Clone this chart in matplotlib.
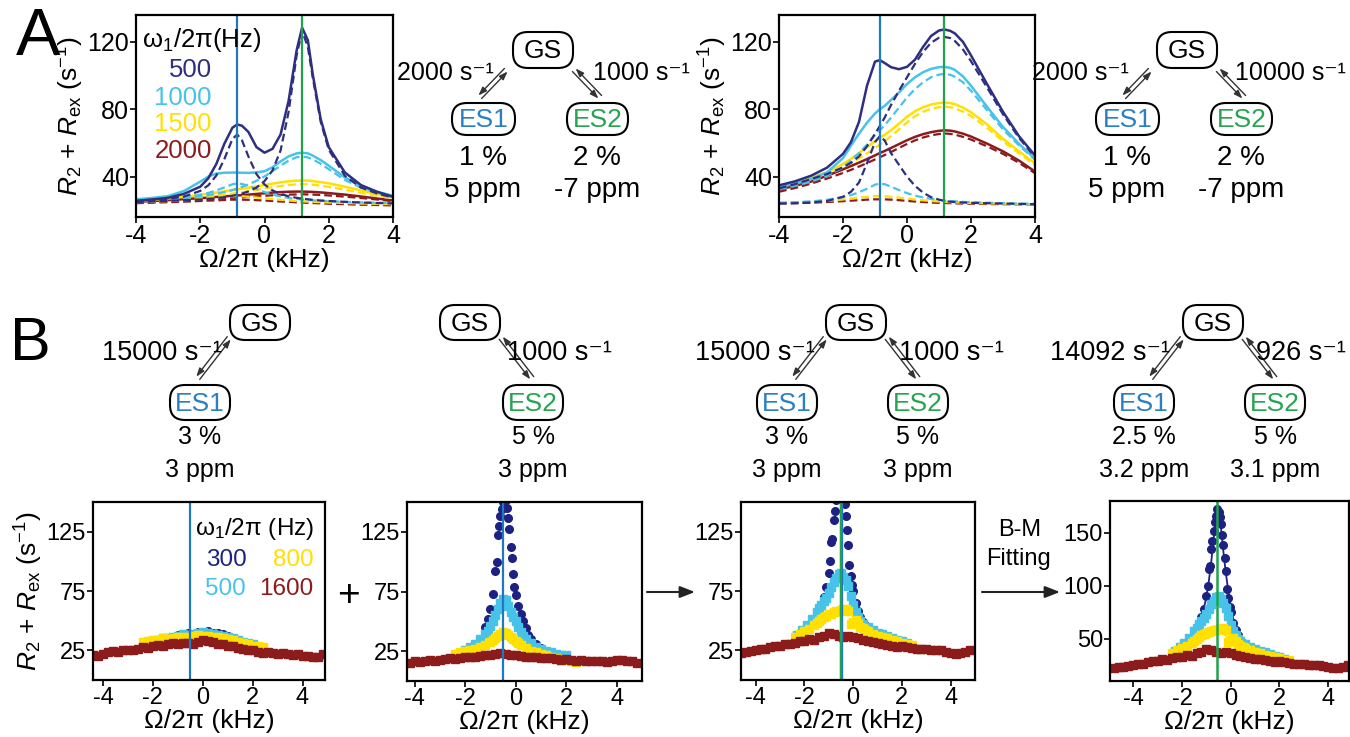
import matplotlib
matplotlib.use('Agg')
import matplotlib.pyplot as plt
from matplotlib.patches import FancyBboxPatch

plt.rcParams['font.family'] = ['Liberation Sans', 'DejaVu Sans']
plt.rcParams['mathtext.fontset'] = 'custom'
plt.rcParams['mathtext.rm'] = 'Liberation Sans'
plt.rcParams['mathtext.it'] = 'Liberation Sans:italic'
plt.rcParams['mathtext.bf'] = 'Liberation Sans:bold'
plt.rcParams['axes.unicode_minus'] = False

# ---------------- colours ----------------
NAVY = '#2e2f80'
NAVY_B = '#1c2182'
CYAN = '#47c3ea'
YELLOW = '#ffe000'
RED = '#8c1c1c'
LINE_BLUE = '#1f78c1'
LINE_GREEN = '#20a34b'
ES1_COL = '#2a80c2'
ES2_COL = '#26a452'

# ---------------- panel A: simulated profiles ----------------
xa = [-4, -3.5, -3, -2.5, -2, -1.75, -1.5, -1.25, -1, -0.85, -0.7, -0.5, -0.25, 0,
      0.25, 0.5, 0.75, 1, 1.17, 1.35, 1.5, 1.75, 2, 2.5, 3, 3.5, 4]
a_fields = ['500', '1000', '1500', '2000']
a_es1_offset = -0.85
a_es2_offset = 1.17

# GS <-> ES1 2000 s-1, GS <-> ES2 1000 s-1
a1_navy = [25.6, 26.4, 27.4, 29.8, 34, 39, 47.5, 59.5, 69, 71, 70.2, 66.5, 57.5, 54.2,
           56.5, 65, 85, 115, 128.5, 121, 101, 74, 57.5, 42.5, 35, 31, 28]
a1_navy_es1 = [25.4, 26.0, 26.8, 28.2, 31.5, 34.8, 40.6, 50.4, 62.3, 65, 61.5, 51.9, 41.5, 35.3,
               31.8, 29.7, 28.3, 27.4, 26.9, 26.5, 26.2, 25.8, 25.5, 25.0, 24.6, 24.3, 24.1]
a1_navy_es2 = [24.8, 25.2, 25.6, 26.0, 26.4, 26.8, 27.2, 27.8, 28.6, 29.2, 29.9, 31.2, 33.5, 37.3,
               43.7, 55.5, 78.4, 112, 126.5, 117, 99, 72.5, 56, 40.5, 33.5, 30, 27.5]
a1_cyan = [26.5, 27.3, 28.4, 31.5, 37, 40, 41.8, 42.3, 42.4, 42.4, 42.3, 42.2, 42.5, 43.2,
           45.5, 49, 52, 53.8, 54.2, 53.8, 52.5, 49.8, 46.5, 39.5, 34.5, 31, 28.6]
a1_cyan_es1 = [25.5, 25.9, 26.6, 27.6, 29.2, 30.3, 31.8, 33.6, 35.4, 36, 35.6, 34.6, 32.6, 30.8,
               29.3, 28.2, 27.3, 26.7, 26.4, 26.1, 25.9, 25.6, 25.4, 25.0, 24.7, 24.5, 24.3]
a1_cyan_es2 = [25.4, 25.8, 26.4, 27.2, 28.3, 29, 29.8, 30.8, 32, 33, 33.9, 35.3, 37.5, 40.1,
               43.2, 46.5, 49.5, 51.5, 51.9, 51.4, 50.3, 47.6, 44.4, 38, 33.5, 30.5, 28]
a1_yel = [25.5, 26.2, 27, 28, 29.2, 29.8, 30.5, 31.2, 32, 32.4, 32.8, 33.4, 34.2, 35,
          35.8, 36.6, 37.2, 37.6, 37.7, 37.6, 37.3, 36.7, 36, 34, 31.8, 29.5, 27.5]
a1_yel_es1 = [24.8, 25.1, 25.5, 26, 26.7, 27.1, 27.5, 27.9, 28.3, 28.4, 28.3, 28, 27.6, 27.1,
              26.6, 26.2, 25.8, 25.5, 25.3, 25.1, 25, 24.8, 24.6, 24.3, 24, 23.8, 23.6]
a1_yel_es2 = [25, 25.5, 26.2, 26.9, 27.7, 28.2, 28.7, 29.3, 29.9, 30.3, 30.7, 31.3, 32.1, 32.9,
              33.7, 34.4, 35, 35.4, 35.5, 35.4, 35.2, 34.6, 33.9, 32.2, 30.4, 28.6, 27]
a1_red = [25, 25.5, 26, 26.6, 27.2, 27.5, 27.9, 28.2, 28.6, 28.8, 29, 29.3, 29.7, 30.1,
          30.5, 30.8, 31, 31.1, 31.1, 31, 30.9, 30.6, 30.2, 29.3, 28.2, 27, 25.8]
a1_red_es1 = [24.2, 24.5, 24.8, 25.1, 25.5, 25.7, 25.9, 26.1, 26.3, 26.3, 26.3, 26.2, 26, 25.8,
              25.5, 25.2, 25, 24.7, 24.6, 24.4, 24.3, 24.1, 23.9, 23.6, 23.3, 23.1, 22.9]
a1_red_es2 = [24.5, 24.9, 25.3, 25.8, 26.3, 26.5, 26.8, 27.1, 27.4, 27.5, 27.7, 28, 28.3, 28.6,
              28.9, 29.1, 29.3, 29.4, 29.5, 29.4, 29.3, 29.1, 28.8, 28.1, 27.3, 26.4, 25.4]

# GS <-> ES1 2000 s-1, GS <-> ES2 10000 s-1
a2_navy = [34.8, 37.2, 40.5, 45.3, 53.5, 60.5, 72.5, 94, 108.3, 109.2, 107.5, 105, 103.8, 105.2,
           109.5, 117, 123.5, 126.8, 127.4, 126.6, 125, 120, 112, 95, 78.5, 64, 52.5]
a2_navy_es1 = [24, 24.2, 24.6, 25.5, 28, 31, 36.5, 48, 60.5, 64, 61.5, 54, 47, 40,
               34.5, 30.5, 27.8, 26.3, 25.6, 25.1, 24.9, 24.6, 24.4, 24.2, 24, 23.8, 23.6]
a2_navy_es2 = [33, 35.5, 38.5, 41.5, 45.5, 48.2, 52, 58, 65.5, 70, 75, 82.5, 91, 99,
               107, 114, 119.5, 122.5, 123, 122.3, 120.5, 115.5, 108.5, 93, 77, 63, 51.5]
a2_cyan = [33.8, 35.8, 38.5, 42.5, 51, 58.5, 65.5, 72, 77.5, 80, 82, 85.5, 90, 95,
           99, 102, 104, 105, 105.2, 104.6, 103.3, 99.5, 94, 81.5, 69.5, 59.5, 50.5]
a2_cyan_es1 = [24.5, 24.8, 25.3, 26.2, 27.8, 29, 30.7, 32.8, 35.2, 35.8, 35.5, 34, 32, 30.2,
               28.7, 27.6, 26.8, 26.2, 25.8, 25.5, 25.3, 25, 24.8, 24.5, 24.2, 24, 23.8]
a2_cyan_es2 = [32.5, 34.5, 37, 40.5, 45.5, 49.5, 54, 59, 64.5, 67.5, 70.5, 75, 81, 87,
               92, 96, 99, 100.6, 101, 100.5, 99.3, 96, 91, 79.5, 68, 58.5, 50]
a2_yel = [33.8, 36.3, 39.5, 42.5, 47.5, 50.5, 54, 57.5, 61, 63, 64.8, 67.5, 71.5, 75.5,
          78.8, 81.2, 82.8, 83.7, 84, 83.7, 83, 81, 78.2, 71, 62.5, 55, 47.8]
a2_yel_es1 = [24.2, 24.5, 25, 25.6, 26.4, 27, 27.5, 28, 28.4, 28.5, 28.4, 28, 27.5, 26.9,
              26.4, 25.9, 25.5, 25.2, 25, 24.8, 24.7, 24.5, 24.3, 24.1, 23.9, 23.7, 23.5]
a2_yel_es2 = [32.8, 35, 37.8, 41.2, 45.5, 48, 50.8, 53.8, 57, 59, 61, 64, 68, 72.2,
              75.8, 78.5, 80.3, 81.2, 81.5, 81.2, 80.5, 78.6, 76, 69, 61, 53.8, 47]
a2_red = [32.4, 34.5, 37, 40.5, 44.3, 46.3, 48.3, 50.4, 52.6, 54, 55.2, 57, 59.3, 61.6,
          63.6, 65.2, 66.4, 67.2, 67.5, 67.3, 66.8, 65.5, 63.8, 59.6, 55, 49.5, 43]
a2_red_es1 = [24, 24.2, 24.5, 24.9, 25.4, 25.7, 26, 26.3, 26.5, 26.5, 26.5, 26.3, 26, 25.6,
              25.2, 24.9, 24.6, 24.4, 24.3, 24.2, 24.1, 24, 23.9, 23.7, 23.6, 23.5, 23.4]
a2_red_es2 = [31, 33.2, 35.8, 38.8, 42.2, 44, 46, 48, 50.2, 51.5, 52.8, 54.6, 57, 59.4,
              61.5, 63.2, 64.5, 65.3, 65.6, 65.4, 64.9, 63.6, 62, 58, 53.5, 48.2, 42]

# ---------------- panel B: profiles vs offset ----------------
b_fields = ['300', '500', '800', '1600']
b_line_offset = -0.5
b4_line_offset = -0.55

red_x = [-4.4, -4.2, -4.0, -3.8, -3.6, -3.4, -3.2, -3.0, -2.8, -2.6, -2.4, -2.2, -2.0, -1.8,
         -1.6, -1.4, -1.2, -1.0, -0.8, -0.6, -0.4, -0.2, 0.0, 0.2, 0.4, 0.6, 0.8, 1.0, 1.2,
         1.4, 1.6, 1.8, 2.0, 2.2, 2.4, 2.6, 2.8, 3.0, 3.2, 3.4, 3.6, 3.8, 4.0, 4.2, 4.4, 4.6, 4.8]

# ES1 only
b1_red = [21, 20.5, 22, 23.5, 24.5, 24, 25, 25.5, 25, 26.5, 27.5, 27, 28.5, 29.5,
          29, 30, 31, 30.5, 31.5, 31, 30.5, 32, 33.5, 33, 32, 30.5, 30, 29, 28.5,
          27, 26.5, 25, 25.5, 24, 23, 23.5, 22.5, 22, 22.5, 21.5, 21, 21.5, 20.5, 20, 19.5, 19, 22]
b1_yel_x = [-2.4, -2.2, -2.0, -1.8, -1.6, -1.4, -1.2, -1.0, -0.8, -0.6, -0.4, -0.2, 0.0,
            0.2, 0.4, 0.6, 0.8, 1.0, 1.2, 1.4, 1.6, 1.8, 2.0, 2.2, 2.4]
b1_yel = [32, 33, 33.5, 34, 35, 34.5, 35.5, 36, 36.5, 36, 37, 38, 37.5,
          37, 36.5, 36, 35, 34.5, 33.5, 32, 31, 30, 29, 28.5, 27.5]
b1_cyan_x = [-2.0, -1.8, -1.6, -1.4, -1.2, -1.0, -0.8, -0.6, -0.4, -0.2, 0.0,
             0.2, 0.4, 0.6, 0.8, 1.0, 1.2, 1.4, 1.6, 1.8, 2.0]
b1_cyan = [33, 34, 35, 35.5, 36.5, 37.5, 38.5, 38, 39, 40, 40.5,
           40, 39, 38, 37, 36, 35, 33.5, 32, 31, 30]
b1_navy_x = [-1.0, -0.8, -0.6, -0.4, -0.2, 0.0, 0.2, 0.4, 0.6, 0.8, 1.0]
b1_navy = [38, 38.5, 39.5, 39, 40.5, 40, 41, 40, 39.5, 38.5, 37.5]

# ES2 only
b2_red = [15, 15.5, 16.5, 16, 17, 17.5, 17, 18, 18.5, 19, 18.5, 19.5, 20, 20.5,
          20, 21, 21.5, 22, 22.5, 23.5, 23, 22, 21.5, 21, 20.5, 20, 20.5, 19.5, 19,
          19.5, 18.5, 18, 18.5, 17.5, 17, 17.5, 17, 16.5, 17, 16.5, 16, 16.5, 17.5, 18, 17, 16.5, 15]
b2_yel_x = [-2.4, -2.2, -2.0, -1.8, -1.6, -1.4, -1.2, -1.0, -0.9, -0.8, -0.7, -0.6, -0.5, -0.4,
            -0.3, -0.2, -0.1, 0.0, 0.1, 0.2, 0.4, 0.6, 0.8, 1.0, 1.2, 1.4, 1.6, 1.8, 2.0, 2.2, 2.4]
b2_yel = [23, 24.5, 25, 26, 27, 28.5, 30.5, 33, 34, 36, 37.5, 39, 41, 40,
          38.5, 37, 35, 33.5, 31.5, 30, 27.5, 25.5, 24, 22.5, 21.5, 20, 19, 18, 17.5, 16.5, 16]
b2_cyan_x = [-2.0, -1.8, -1.6, -1.4, -1.2, -1.1, -1.0, -0.9, -0.8, -0.7, -0.6, -0.5, -0.4, -0.3,
             -0.2, -0.1, 0.0, 0.1, 0.2, 0.3, 0.4, 0.6, 0.8, 1.0, 1.2, 1.4, 1.6, 1.8, 2.0]
b2_cyan = [26, 28.5, 31, 35, 39.5, 42, 46, 50, 55, 60, 65, 69, 68, 63,
           58, 54, 50, 45, 41, 38, 35.5, 31.5, 28.5, 26.5, 25, 24, 23, 22, 21.5]
b2_navy_x = [-1.2, -1.1, -1.0, -0.9, -0.8, -0.75, -0.7, -0.65, -0.6, -0.55, -0.5, -0.45, -0.4,
             -0.35, -0.3, -0.25, -0.2, -0.15, -0.1, -0.05, 0.0, 0.1, 0.2, 0.3, 0.4, 0.5, 0.6, 0.8, 1.0]
b2_navy = [45, 52, 60, 73, 92, 100, 122, 130, 138, 144, 150, 155, 152,
           145, 137, 127, 112, 103, 90, 79, 72, 63, 56, 50, 44, 38.5, 35.5, 31, 28]

# ES1 + ES2 together (also the data that is fitted)
b3_red_x = [-4.8, -4.6] + red_x
b3_red = [22.5, 23, 23.5, 24.5, 25, 26, 26.5, 28, 28.5, 29, 30.5, 30, 31.5, 32.5, 33,
          34.5, 34, 36, 37.5, 40, 39, 37.5, 36, 37, 36.5, 35, 34, 33, 32, 31, 30.5,
          29.5, 29, 28, 28.5, 27.5, 27, 26.5, 26, 26.5, 25.5, 25, 25, 24, 23, 22, 22.5, 23.5, 25]
b3_yel_x = [-2.4, -2.2, -2.0, -1.8, -1.6, -1.5, -1.4, -1.3, -1.2, -1.1, -1.0, -0.9, -0.8, -0.7,
            -0.6, -0.5, -0.4, -0.3, -0.2, -0.1, 0.0, 0.1, 0.2, 0.3, 0.4, 0.5, 0.6, 0.8, 1.0,
            1.2, 1.4, 1.6, 1.8, 2.0, 2.2, 2.4]
b3_yel = [36.5, 39, 41, 43, 46, 48, 50, 51.5, 53, 54, 55.5, 56, 57, 58,
          58.5, 59, 59.5, 60, 58, 47, 49, 50.5, 48, 45, 43.5, 42, 41, 39, 37.5,
          36.5, 35, 34, 32.5, 31.5, 30, 29.5]
b3_cyan_x = [-2.3, -2.1, -1.9, -1.7, -1.5, -1.4, -1.3, -1.2, -1.1, -1.0, -0.9, -0.8, -0.7, -0.6,
             -0.5, -0.4, -0.3, -0.2, -0.1, 0.0, 0.1, 0.2, 0.3, 0.4, 0.6, 0.8, 1.0, 1.2, 1.4,
             1.6, 1.8, 2.0, 2.2]
b3_cyan = [38, 42, 46, 51, 57.5, 60.5, 63.5, 66.5, 69.5, 73, 78, 83, 86, 89,
           90, 87, 84, 79, 71, 63, 57, 53, 50, 47.5, 44.5, 42, 40, 38.5, 37,
           35.5, 34, 32.5, 31]
b3_navy_x = [-2.0, -1.8, -1.6, -1.4, -1.3, -1.2, -1.1, -1.0, -0.95, -0.9, -0.85, -0.8, -0.75,
             -0.7, -0.65, -0.6, -0.55, -0.5, -0.45, -0.4, -0.35, -0.3, -0.25, -0.2, -0.15,
             -0.1, -0.05, 0.0, 0.1, 0.2, 0.3, 0.4, 0.5, 0.6, 0.8, 1.0, 1.2, 1.4, 1.6, 1.8, 2.0]
b3_navy = [40, 43.5, 49, 57, 63, 70, 78, 90, 100, 116, 119, 135, 142,
           152, 160, 166, 172, 170, 165, 158, 148, 138, 126, 114, 97,
           88, 80, 75, 65, 58, 53, 49, 46, 44, 40.5, 38.5, 36.5, 35, 33.5, 32, 31]

# Bloch-McConnell fit curves
fit_x = [-4.9, -4, -3, -2.5, -2, -1.75, -1.5, -1.25, -1.1, -1.0, -0.9, -0.8, -0.7, -0.6,
         -0.55, -0.5, -0.4, -0.3, -0.2, -0.1, 0, 0.1, 0.25, 0.5, 0.75, 1, 1.5, 2, 2.5, 3, 4, 4.9]
fit_navy = [22, 24, 28, 31, 38, 43, 52, 66, 79, 89, 104, 122, 145, 166,
            172, 170, 155, 132, 112, 95, 80, 69, 57, 45, 38.5, 35, 30.5, 28, 26, 24.5, 22, 21]
fit_cyan = [22, 24.5, 28.5, 32, 38.5, 43, 50, 58, 64, 69, 74.5, 80, 85, 88,
            88.5, 88, 85, 79, 72, 65, 59, 54, 48.5, 43, 39.5, 37, 33, 30, 27.5, 25.5, 22.5, 21]
fit_yel = [22, 25, 30, 33.5, 38.5, 41.5, 45, 48.5, 50.5, 52, 53.5, 55, 56, 56.8,
           57, 56.8, 56, 54.5, 52.5, 50.5, 48.5, 46.5, 44, 40.5, 37.5, 35.5, 32, 29.5, 27, 25.5, 22.5, 21]
fit_red = [22, 25, 29, 31.3, 33.5, 34.7, 35.8, 36.8, 37.3, 37.6, 37.8, 38, 38, 37.9,
           37.8, 37.7, 37.4, 37, 36.6, 36.2, 35.7, 35.2, 34.5, 33.3, 32.2, 31.2, 29.4, 27.8, 26.4, 25.2, 23.2, 21.8]

W, H = 1350, 737
fig = plt.figure(figsize=(W / 100, H / 100), dpi=100)


def px_axes(l, t, r, b):
    return fig.add_axes([l / W, 1 - b / H, (r - l) / W, (b - t) / H])


def style(ax, xlim, ylim, yticks, size):
    ax.set_xlim(*xlim)
    ax.set_ylim(*ylim)
    ax.set_xticks([-4, -2, 0, 2, 4])
    ax.set_yticks(yticks)
    ax.tick_params(direction='out', length=4, width=1.2, labelsize=size, pad=1)
    for s in ax.spines.values():
        s.set_linewidth(1.6)


ylab = r'$R_2$ + $R_{\mathrm{ex}}$ (s$^{-1}$)'
xlab = 'Ω/2π (kHz)'
dash = (0, (3.5, 1.8))
a_cols = [NAVY, CYAN, YELLOW, RED]

a_sets = [
    ((136, 15, 393, 217), [(a1_navy, a1_navy_es1, a1_navy_es2), (a1_cyan, a1_cyan_es1, a1_cyan_es2),
                           (a1_yel, a1_yel_es1, a1_yel_es2), (a1_red, a1_red_es1, a1_red_es2)]),
    ((779, 15, 1035, 217), [(a2_navy, a2_navy_es1, a2_navy_es2), (a2_cyan, a2_cyan_es1, a2_cyan_es2),
                            (a2_yel, a2_yel_es1, a2_yel_es2), (a2_red, a2_red_es1, a2_red_es2)]),
]
for rect, curves in a_sets:
    ax = px_axes(*rect)
    for (solid, es1, es2), col in reversed(list(zip(curves, a_cols))):
        ax.plot(xa, es1, color=col, lw=1.6, ls=dash)
        ax.plot(xa, es2, color=col, lw=1.6, ls=dash)
        ax.plot(xa, solid, color=col, lw=1.8)
    ax.axvline(a_es1_offset, color=LINE_BLUE, lw=1.6)
    ax.axvline(a_es2_offset, color=LINE_GREEN, lw=1.6)
    style(ax, (-4, 4), (16, 136), [40, 80, 120], 18)
    ax.set_xlabel(xlab, fontsize=19, labelpad=0)
    ax.set_ylabel(ylab, fontsize=19, labelpad=1)


def scatter_set(ax, series, fits=None):
    for i, (x, y, col, mk) in enumerate(series):
        ax.plot(x, y, ls='none', marker=mk, ms=5.5, color=col, mec=col)
        if fits is not None:
            ax.plot(fit_x, fits[i], color=col, lw=1.3)


b1 = px_axes(93, 502, 325, 680)
scatter_set(b1, [(b1_navy_x, b1_navy, NAVY_B, 'o'), (b1_cyan_x, b1_cyan, CYAN, 's'),
                 (b1_yel_x, b1_yel, YELLOW, 's'), (red_x, b1_red, RED, 's')])
b1.axvline(b_line_offset, color=LINE_BLUE, lw=1.6)
style(b1, (-4.4, 4.9), (0, 150), [25, 75, 125], 17)
b1.set_ylabel(ylab, fontsize=19, labelpad=1)

b2 = px_axes(407, 502, 642, 681)
scatter_set(b2, [(b2_navy_x, b2_navy, NAVY_B, 'o'), (b2_cyan_x, b2_cyan, CYAN, 's'),
                 (b2_yel_x, b2_yel, YELLOW, 's'), (red_x, b2_red, RED, 's')])
b2.axvline(b_line_offset, color=LINE_BLUE, lw=1.6)
style(b2, (-4.3, 5.0), (0, 150), [25, 75, 125], 17)

b3_series = [(b3_navy_x, b3_navy, NAVY_B, 'o'), (b3_cyan_x, b3_cyan, CYAN, 's'),
             (b3_yel_x, b3_yel, YELLOW, 's'), (b3_red_x, b3_red, RED, 's')]
b3 = px_axes(741, 502, 975, 680)
scatter_set(b3, b3_series)
b3.axvline(b_line_offset, color=LINE_BLUE, lw=2.4)
b3.axvline(b_line_offset, color=LINE_GREEN, lw=1.6)
style(b3, (-4.6, 5.0), (0, 150), [25, 75, 125], 17)

b4 = px_axes(1110, 501, 1349, 681)
scatter_set(b4, b3_series, fits=[fit_navy, fit_cyan, fit_yel, fit_red])
b4.axvline(b4_line_offset, color=LINE_GREEN, lw=1.8)
style(b4, (-4.95, 4.85), (10, 180), [50, 100, 150], 17)

for ax in (b1, b2, b3, b4):
    ax.set_xlabel(xlab, fontsize=19, labelpad=0)

# ---------------- overlay: schemes, legends, arrows ----------------
ov = fig.add_axes([0, 0, 1, 1], zorder=5)
ov.set_xlim(0, W)
ov.set_ylim(H, 0)
ov.axis('off')
ov.patch.set_alpha(0)


def state(x, y, w, h, label, col='black', size=18):
    ov.add_patch(FancyBboxPatch((x, y), w, h, boxstyle='round,pad=0,rounding_size=15',
                                fc='white', ec='black', lw=1.5))
    ov.text(x + w / 2, y + h / 2 + 1, label, color=col, fontsize=size, ha='center', va='center')


def eq_arrow(x0, y0, x1, y1):
    dx, dy = x1 - x0, y1 - y0
    n = (dx ** 2 + dy ** 2) ** 0.5
    ox, oy = -dy / n * 2.2, dx / n * 2.2
    props = dict(arrowstyle='-|>,head_length=0.5,head_width=0.18', lw=1.0, color='#333333',
                 shrinkA=0, shrinkB=0)
    ov.annotate('', xy=(x1 + ox, y1 + oy), xytext=(x0 + ox, y0 + oy), arrowprops=props)
    ov.annotate('', xy=(x0 - ox, y0 - oy), xytext=(x1 - ox, y1 - oy), arrowprops=props)


def txt(x, y, s, size=18, ha='center', col='black'):
    ov.text(x, y, s, fontsize=size, ha=ha, va='center', color=col)


txt(38, 38, 'A', size=48)
txt(30, 344, 'B', size=44)

# A legend
txt(142, 40, 'ω$_1$/2π(Hz)', size=18.5, ha='left')
for lab, col, yy in zip(a_fields, a_cols, [70, 98, 124, 151]):
    txt(212, yy, lab, size=18.5, ha='right', col=col)

# A schemes
for dx, k1_right, k2_text, k2_x, k2_ha in [(0, 494, '1000 s⁻¹', 593, 'left'),
                                            (644, 1129, '10000 s⁻¹', 1346, 'right')]:
    state(513 + dx, 32, 60, 36, 'GS', size=19)
    state(452 + dx, 103, 63, 32, 'ES1', ES1_COL, size=19)
    state(567 + dx, 103, 61, 32, 'ES2', ES2_COL, size=19)
    eq_arrow(506 + dx, 70, 480 + dx, 97)
    eq_arrow(574 + dx, 70, 600 + dx, 97)
    txt(k1_right, 73, '2000 s⁻¹', size=18, ha='right')
    txt(k2_x, 73, k2_text, size=18, ha=k2_ha)
    txt(483 + dx, 158, '1 %', size=20)
    txt(597 + dx, 158, '2 %', size=20)
    txt(483 + dx, 190, '5 ppm', size=20)
    txt(597 + dx, 190, '-7 ppm', size=20)

# B schemes
RS = 19.5   # rate constants
PS = 18     # populations / shifts
state(230, 305, 60, 35, 'GS', size=19)
state(170, 385, 60, 35, 'ES1', ES1_COL, size=19)
eq_arrow(229, 338, 198, 378)
txt(222, 353, '15000 s⁻¹', size=RS, ha='right')
txt(200, 437, '3 %', size=PS)
txt(200, 470, '3 ppm', size=PS)

state(440, 305, 60, 35, 'GS', size=19)
state(503, 385, 60, 35, 'ES2', ES2_COL, size=19)
eq_arrow(501, 338, 532, 378)
txt(507, 353, '1000 s⁻¹', size=RS, ha='left')
txt(533, 437, '5 %', size=PS)
txt(533, 470, '3 ppm', size=PS)

scheme_b = [(826, '15000', '1000', '3 %', '5 %', '3 ppm', '3 ppm', 815, 899, 'left'),
            (1183, '14092', '926', '2.5 %', '5 %', '3.2 ppm', '3.1 ppm', 1170, 1346, 'right')]
for gx, k1, k2, p1, p2, d1, d2, lx, rx, rha in scheme_b:
    state(gx, 305, 60, 35, 'GS', size=19)
    state(gx - 69, 385, 60, 35, 'ES1', ES1_COL, size=19)
    state(gx + 62, 385, 60, 35, 'ES2', ES2_COL, size=19)
    eq_arrow(gx - 1, 338, gx - 32, 378)
    eq_arrow(gx + 61, 338, gx + 92, 378)
    txt(lx, 353, k1 + ' s⁻¹', size=RS, ha='right')
    txt(rx, 353, k2 + ' s⁻¹', size=RS, ha=rha)
    txt(gx - 39, 437, p1, size=PS)
    txt(gx + 92, 437, p2, size=PS)
    txt(gx - 39, 470, d1, size=PS)
    txt(gx + 92, 470, d2, size=PS)

# B legend
txt(195, 529, 'ω$_1$/2π (Hz)', size=17.5, ha='left')
for lab, col, (xx, yy) in zip(b_fields, [NAVY_B, CYAN, YELLOW, RED],
                              [(226, 560), (225, 589), (293, 560), (286, 589)]):
    txt(xx, yy, lab, size=17.5, col=col)

txt(348, 596, '+', size=28)
ov.annotate('', xy=(695, 592), xytext=(647, 592),
            arrowprops=dict(arrowstyle='-|>,head_length=0.9,head_width=0.35', lw=1.5, color='#222222',
                            shrinkA=0, shrinkB=0))
ov.annotate('', xy=(1060, 592), xytext=(982, 592),
            arrowprops=dict(arrowstyle='-|>,head_length=0.9,head_width=0.35', lw=1.5, color='#222222',
                            shrinkA=0, shrinkB=0))
txt(1020, 530, 'B-M', size=17)
txt(1019, 559, 'Fitting', size=17)

fig.savefig('out.png', dpi=100)
